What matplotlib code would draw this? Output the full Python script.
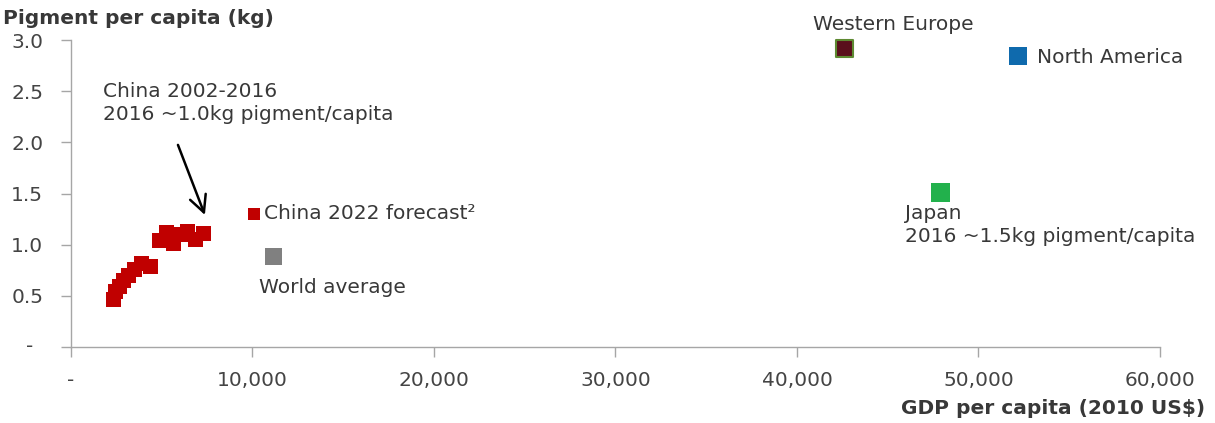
import matplotlib
matplotlib.use("Agg")
import matplotlib.pyplot as plt
from matplotlib.ticker import FixedLocator, FuncFormatter

# China 2002-2016 path: GDP per capita (2010 US$) vs pigment per capita (kg)
china_gdp = [2300, 2450, 2650, 2850, 3150, 3500, 3850, 4350, 4850, 5250, 5600, 6000, 6400, 6850, 7250]
china_pig = [0.47, 0.55, 0.60, 0.65, 0.70, 0.76, 0.82, 0.79, 1.05, 1.12, 1.02, 1.10, 1.13, 1.06, 1.11]

# single-point markers
region_names = ["China 2022 forecast", "World average", "Western Europe", "North America", "Japan"]
region_gdp = [10100, 11150, 42600, 52200, 47900]
region_pig = [1.30, 0.88, 2.92, 2.84, 1.51]

x_ticks = [0, 10000, 20000, 30000, 40000, 50000, 60000]
y_ticks = [0, 0.5, 1.0, 1.5, 2.0, 2.5, 3.0]

TXT = "#383838"
plt.rcParams["font.family"] = ["DejaVu Sans"]

fig = plt.figure(figsize=(12.15, 4.23), dpi=100)
ax = fig.add_axes([0.0584, 0.1797, 0.8963, 0.7257])

ax.scatter(china_gdp, china_pig, marker="s", s=(15 * 0.72) ** 2, color="#C00000",
           linewidths=0, zorder=3)

styles = {
    "China 2022 forecast": dict(color="#C00000", size=12, edge="none"),
    "World average": dict(color="#808080", size=17, edge="none"),
    "Western Europe": dict(color="#5A0F1C", size=17, edge="#5E8A32"),
    "North America": dict(color="#0F6AAD", size=18, edge="none"),
    "Japan": dict(color="#22B14C", size=19, edge="none"),
}
for name, gx, py in zip(region_names, region_gdp, region_pig):
    st = styles[name]
    ax.scatter([gx], [py], marker="s", s=(st["size"] * 0.72) ** 2, color=st["color"],
               edgecolors=st["edge"], linewidths=1.5 if st["edge"] != "none" else 0,
               zorder=3, clip_on=False)

fs = 14.5
ax.text(10630, 1.30, "China 2022 forecast²", fontsize=fs, color=TXT, va="center", ha="left")
ax.text(10360, 0.577, "World average", fontsize=fs, color=TXT, va="center", ha="left")
ax.text(45290, 3.15, "Western Europe", fontsize=fs, color=TXT, va="center", ha="center")
ax.text(53220, 2.825, "North America", fontsize=fs, color=TXT, va="center", ha="left")
ax.text(45950, 1.40, "Japan\n2016 ~1.5kg pigment/capita", fontsize=fs, color=TXT,
        va="top", ha="left", linespacing=1.3)
ax.text(1763, 2.59, "China 2002-2016\n2016 ~1.0kg pigment/capita", fontsize=fs, color=TXT,
        va="top", ha="left", linespacing=1.3)

# arrow pointing at the 2016 China point
ax.annotate("", xy=(7380, 1.29), xytext=(5895, 1.975),
            arrowprops=dict(arrowstyle="->", color="black", lw=1.8, mutation_scale=30,
                            shrinkA=0, shrinkB=0))

ax.set_xlim(0, 60000)
ax.set_ylim(0, 3.0)
ax.xaxis.set_major_locator(FixedLocator(x_ticks))
ax.yaxis.set_major_locator(FixedLocator(y_ticks))
ax.xaxis.set_major_formatter(FuncFormatter(lambda v, p: "-" if v == 0 else f"{v:,.0f}"))
# zero on the y axis is drawn as a dash set a little further left
ax.yaxis.set_major_formatter(FuncFormatter(lambda v, p: "" if v == 0 else f"{v:.1f}"))
ax.annotate("-", xy=(0, 0), xycoords=("axes fraction", "data"), xytext=(-27, 0),
            textcoords="offset points", ha="right", va="center", fontsize=fs,
            color="#444444", annotation_clip=False)

for side in ["top", "right"]:
    ax.spines[side].set_visible(False)
for side in ["left", "bottom"]:
    ax.spines[side].set_color("#A6A6A6")
    ax.spines[side].set_linewidth(1.0)
ax.tick_params(axis="both", colors="#A6A6A6", labelcolor="#444444", labelsize=fs,
               length=7, width=1.0)
ax.tick_params(axis="y", pad=13)
ax.tick_params(axis="x", pad=10)

fig.text(0.0025, 0.957, "Pigment per capita (kg)", fontsize=fs, fontweight="bold",
         color=TXT, ha="left", va="center")
fig.text(0.992, 0.035, r"GDP per capita (2010 US\$)", fontsize=fs, fontweight="bold",
         color=TXT, ha="right", va="center")

fig.savefig("out.png", dpi=100)
